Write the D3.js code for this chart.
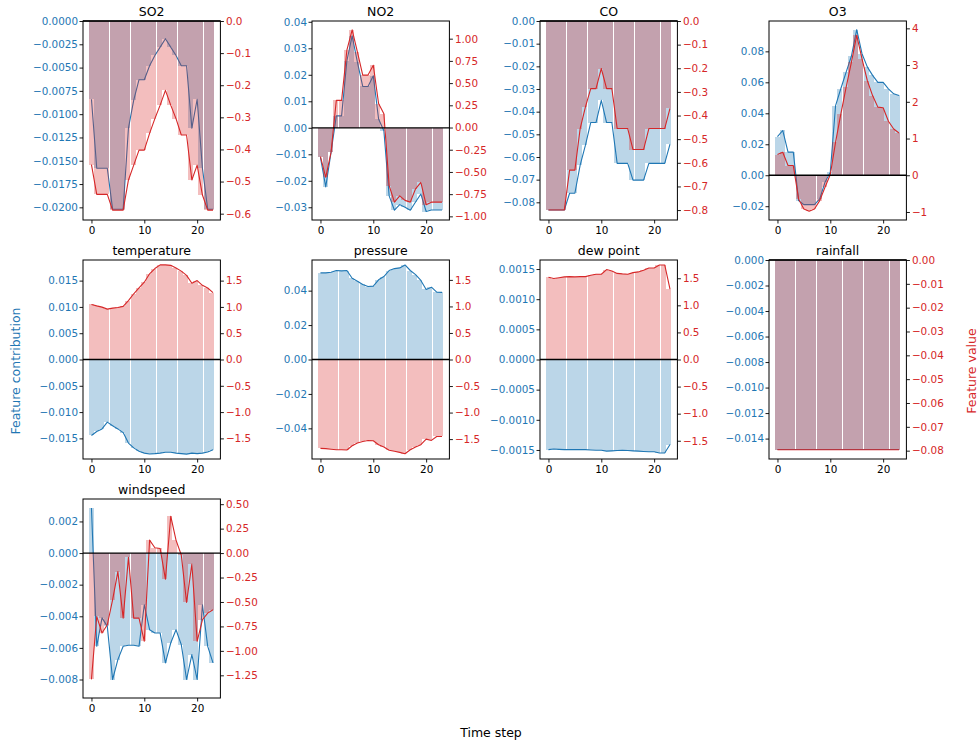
<!DOCTYPE html>
<html lang="en">
<head>
  <meta charset="UTF-8">
  <title>Feature contribution vs feature value</title>
  <style>
    body { margin: 0; background: #fff; }
    svg { display: block; font-family: "DejaVu Sans", sans-serif; }
  </style>
</head>
<body>
  <svg width="980" height="742"></svg>
  <script src="https://cdn.jsdelivr.net/npm/d3@7"></script>
  <script>
    const features = ['SO2', 'NO2', 'CO', 'O3', 'temperature', 'pressure', 'dew point', 'rainfall', 'windspeed'];
    const timeSteps = [0, 1, 2, 3, 4, 5, 6, 7, 8, 9, 10, 11, 12, 13, 14, 15, 16, 17, 18, 19, 20, 21, 22, 23];
    const xTicks = [0, 10, 20];

    // contribution (left axis) and feature value (right axis), one pair per feature
    const so2Contrib = [-0.0084, -0.0158, -0.0158, -0.0158, -0.0202, -0.0202, -0.0202, -0.0115, -0.0085, -0.0063, -0.0063, -0.0048, -0.0037, -0.0028, -0.0019, -0.0028, -0.0037, -0.0048, -0.0048, -0.0115, -0.0084, -0.0158, -0.0202, -0.0202];
    const so2Value = [-0.447, -0.54, -0.54, -0.54, -0.589, -0.589, -0.589, -0.495, -0.449, -0.402, -0.402, -0.35, -0.304, -0.262, -0.216, -0.262, -0.304, -0.355, -0.355, -0.495, -0.449, -0.542, -0.589, -0.589];

    const no2Contrib = [-0.0112, -0.0223, -0.0093, 0.0045, 0.0045, 0.0253, 0.0347, 0.0247, 0.0156, 0.0156, 0.0196, 0.0033, -0.0011, -0.0257, -0.0311, -0.029, -0.030, -0.0311, -0.028, -0.025, -0.0316, -0.031, -0.031, -0.031];
    const no2Value = [-0.327, -0.56, -0.28, 0.305, 0.305, 0.87, 1.10, 0.85, 0.59, 0.59, 0.70, 0.27, 0.154, -0.654, -0.84, -0.77, -0.82, -0.84, -0.69, -0.617, -0.87, -0.84, -0.84, -0.84];

    const coContrib = [-0.0834, -0.0834, -0.0834, -0.0834, -0.076, -0.076, -0.0636, -0.0548, -0.0448, -0.0448, -0.035, -0.0448, -0.0448, -0.0628, -0.0628, -0.0628, -0.0702, -0.0702, -0.0702, -0.0628, -0.0628, -0.0628, -0.0628, -0.0543];
    const coValue = [-0.80, -0.80, -0.80, -0.80, -0.631, -0.631, -0.455, -0.363, -0.286, -0.286, -0.201, -0.286, -0.286, -0.455, -0.455, -0.455, -0.544, -0.544, -0.544, -0.455, -0.455, -0.455, -0.455, -0.37];

    const o3Contrib = [0.025, 0.0289, 0.0149, 0.0149, -0.0164, -0.019, -0.019, -0.019, -0.0153, -0.0045, 0.002, 0.045, 0.056, 0.0666, 0.077, 0.094, 0.0785, 0.070, 0.0645, 0.060, 0.060, 0.0558, 0.0526, 0.0515];
    const o3Value = [0.564, 0.627, 0.264, 0.264, -0.645, -0.918, -0.98, -0.918, -0.69, -0.327, 0.02, 0.90, 1.67, 2.40, 3.08, 3.81, 3.17, 2.58, 2.17, 1.855, 1.84, 1.47, 1.26, 1.15];

    const tempContrib = [-0.01444, -0.01368, -0.0132, -0.0119, -0.0126, -0.0132, -0.0139, -0.0159, -0.0168, -0.01746, -0.0178, -0.01797, -0.0179, -0.0178, -0.01765, -0.01765, -0.0178, -0.0179, -0.018, -0.0178, -0.0179, -0.0178, -0.0176, -0.01715];
    const tempValue = [1.047, 1.02, 0.996, 0.958, 0.977, 0.99, 1.01, 1.12, 1.25, 1.36, 1.47, 1.63, 1.73, 1.80, 1.80, 1.79, 1.74, 1.68, 1.60, 1.45, 1.50, 1.41, 1.36, 1.27];

    const pressContrib = [0.0503, 0.0503, 0.0507, 0.0517, 0.0515, 0.0517, 0.0472, 0.0455, 0.0436, 0.0424, 0.0426, 0.0463, 0.0482, 0.0517, 0.0528, 0.0532, 0.0549, 0.0517, 0.0493, 0.0459, 0.0407, 0.042, 0.0391, 0.039];
    const pressValue = [-1.675, -1.68, -1.69, -1.70, -1.70, -1.706, -1.625, -1.575, -1.545, -1.525, -1.53, -1.606, -1.65, -1.71, -1.73, -1.75, -1.775, -1.70, -1.65, -1.606, -1.50, -1.525, -1.45, -1.45];

    const dewContrib = [-0.001495, -0.001484, -0.00149, -0.001495, -0.001495, -0.001495, -0.001495, -0.001495, -0.0015, -0.001505, -0.001505, -0.00152, -0.001515, -0.00151, -0.001505, -0.00151, -0.001515, -0.00152, -0.001525, -0.00153, -0.00153, -0.00155, -0.00155, -0.00141];
    const dewValue = [1.519, 1.494, 1.51, 1.525, 1.53, 1.525, 1.53, 1.53, 1.555, 1.574, 1.574, 1.66, 1.635, 1.59, 1.58, 1.574, 1.604, 1.617, 1.647, 1.69, 1.69, 1.745, 1.745, 1.30];

    const rainContrib = [-0.01486, -0.01486, -0.01486, -0.01486, -0.01486, -0.01486, -0.01486, -0.01486, -0.01486, -0.01486, -0.01486, -0.01486, -0.01486, -0.01486, -0.01486, -0.01486, -0.01486, -0.01486, -0.01486, -0.01486, -0.01486, -0.01486, -0.01486, -0.01486];
    const rainValue = [-0.0796, -0.0796, -0.0796, -0.0796, -0.0796, -0.0796, -0.0796, -0.0796, -0.0796, -0.0796, -0.0796, -0.0796, -0.0796, -0.0796, -0.0796, -0.0796, -0.0796, -0.0796, -0.0796, -0.0796, -0.0796, -0.0796, -0.0796, -0.0796];

    const windContrib = [0.00285, -0.0059, -0.0041, -0.00464, -0.008, -0.00674, -0.0059, -0.00583, -0.00583, -0.0059, -0.00327, -0.00485, -0.00506, -0.00506, -0.00695, -0.00569, -0.00485, -0.00579, -0.008, -0.00642, -0.008, -0.00327, -0.0059, -0.00695];
    const windValue = [-1.292, -0.648, -0.818, -0.733, -0.478, -0.19, -0.665, -0.044, -0.665, -0.665, -0.902, 0.132, 0.054, 0.047, -0.268, 0.377, 0.132, -0.02, -0.505, -0.112, -0.902, -0.682, -0.614, -0.58];

    const contribSeries = [so2Contrib, no2Contrib, coContrib, o3Contrib, tempContrib, pressContrib, dewContrib, rainContrib, windContrib];
    const valueSeries = [so2Value, no2Value, coValue, o3Value, tempValue, pressValue, dewValue, rainValue, windValue];

    // y limits (zeros of both axes line up)
    const contribLimits = [[-0.02136, 0], [-0.0348, 0.0403], [-0.0878, 0], [-0.0289, 0.0996], [-0.01892, 0.01892], [-0.0578, 0.0578], [-0.00165, 0.00165], [-0.0156, 0], [-0.00917, 0.00342]];
    const valueLimits = [[-0.6197, 0], [-1.041, 1.199], [-0.842, 0], [-1.218, 4.2], [-1.892, 1.892], [-1.875, 1.875], [-1.837, 1.837], [-0.0835, 0], [-1.482, 0.553]];
    const contribTickStep = [0.0025, 0.01, 0.01, 0.02, 0.005, 0.02, 0.0005, 0.002, 0.002];
    const contribDecimals = [4, 2, 2, 2, 3, 2, 4, 3, 3];
    const valueTickStep = [0.1, 0.25, 0.1, 1, 0.5, 0.5, 0.5, 0.01, 0.25];
    const valueDecimals = [1, 2, 1, 0, 1, 1, 1, 2, 2];

    const blue = '#1f77b4', red = '#d62728';
    const svg = d3.select('svg');
    const axW = 137.4, axH = 199;
    const x = d3.scaleLinear().domain([-1.6, 24.4]).range([0, axW]);
    const barStep = 0.9875;

    function tickList(lim, step) {
      const out = [];
      for (let n = Math.ceil(lim[0] / step - 1e-6); n <= Math.floor(lim[1] / step + 1e-6); n++) {
        out.push(n === 0 ? 0 : n * step);
      }
      return out;
    }

    function styleAxis(sel, color) {
      sel.select('.domain').remove();
      sel.selectAll('line').attr('stroke', '#000').attr('stroke-width', 0.9);
      sel.selectAll('text').attr('fill', color).attr('font-size', 10.4)
        .attr('font-family', '"DejaVu Sans", sans-serif');
    }

    function drawSeries(g, data, y, color) {
      // bars of width ~1 snapped to whole pixels, this leaves the thin white seams
      g.append('g').selectAll('rect').data(data).join('rect')
        .attr('shape-rendering', 'crispEdges')
        .attr('x', (d, i) => Math.round(x(-0.5 + i * barStep)))
        .attr('width', (d, i) => Math.floor(x(-0.5 + (i + 1) * barStep) - x(-0.5 + i * barStep)))
        .attr('y', d => Math.min(y(0), y(d)))
        .attr('height', d => Math.abs(y(d) - y(0)))
        .attr('fill', color)
        .attr('fill-opacity', 0.3);

      const line = d3.line().x((d, i) => x(timeSteps[i])).y(d => y(d));
      g.append('path').datum(data)
        .attr('fill', 'none')
        .attr('stroke', color)
        .attr('stroke-width', 1.1)
        .attr('stroke-linejoin', 'round')
        .attr('d', line);
    }

    features.forEach((name, k) => {
      const col = k % 4, row = Math.floor(k / 4);
      const g = svg.append('g')
        .attr('transform', `translate(${Math.round(83.3 + col * 228.4)},${Math.round(20.5 + row * 239)})`);

      const yL = d3.scaleLinear().domain(contribLimits[k]).range([axH, 0]);
      const yR = d3.scaleLinear().domain(valueLimits[k]).range([axH, 0]);

      drawSeries(g, contribSeries[k], yL, blue);
      drawSeries(g, valueSeries[k], yR, red);

      g.append('line')
        .attr('x1', 0).attr('x2', axW)
        .attr('y1', yL(0)).attr('y2', yL(0))
        .attr('stroke', '#000').attr('stroke-width', 1.3);

      g.append('rect')
        .attr('width', axW).attr('height', axH)
        .attr('fill', 'none').attr('stroke', '#000').attr('stroke-width', 1);

      const fmtL = d3.format(`.${contribDecimals[k]}f`);
      const fmtR = d3.format(`.${valueDecimals[k]}f`);

      g.append('g')
        .call(d3.axisLeft(yL).tickValues(tickList(contribLimits[k], contribTickStep[k]))
          .tickFormat(fmtL).tickSizeOuter(0).tickSize(3.5).tickPadding(1.5))
        .call(s => styleAxis(s, blue));

      g.append('g')
        .attr('transform', `translate(${axW},0)`)
        .call(d3.axisRight(yR).tickValues(tickList(valueLimits[k], valueTickStep[k]))
          .tickFormat(fmtR).tickSizeOuter(0).tickSize(3.5).tickPadding(2))
        .call(s => styleAxis(s, red));

      g.append('g')
        .attr('transform', `translate(0,${axH})`)
        .call(d3.axisBottom(x).tickValues(xTicks).tickFormat(d3.format('d'))
          .tickSizeOuter(0).tickSize(3.5).tickPadding(2.8))
        .call(s => styleAxis(s, '#000'));

      g.append('text')
        .attr('x', axW / 2).attr('y', -5)
        .attr('text-anchor', 'middle')
        .attr('font-size', 12.5)
        .text(name);
    });

    svg.append('text')
      .attr('transform', 'translate(20,371) rotate(-90)')
      .attr('text-anchor', 'middle')
      .attr('font-size', 12.5)
      .attr('fill', blue)
      .text('Feature contribution');

    svg.append('text')
      .attr('transform', 'translate(976,371) rotate(-90)')
      .attr('text-anchor', 'middle')
      .attr('font-size', 12.5)
      .attr('fill', red)
      .text('Feature value');

    svg.append('text')
      .attr('x', 491).attr('y', 737)
      .attr('text-anchor', 'middle')
      .attr('font-size', 12.5)
      .text('Time step');
  </script>
</body>
</html>
